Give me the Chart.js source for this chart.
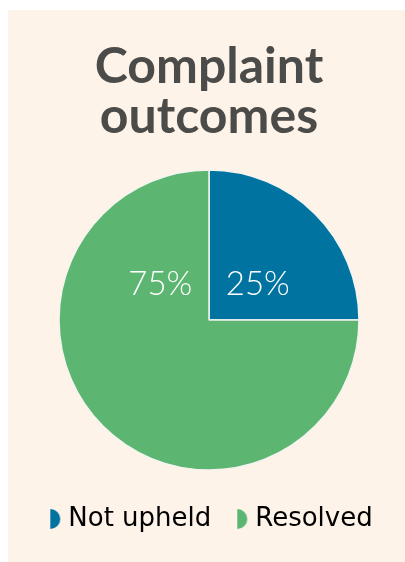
<!DOCTYPE html>
<html>
<head>
<meta charset="utf-8">
<script src="https://cdn.jsdelivr.net/npm/chart.js@4"></script>
<style>
  body { margin: 0; background: #ffffff; }
  #painel {
    position: absolute;
    left: 8px;
    top: 10px;
    width: 397px;
    height: 552px;
    background: #fef3e8;
  }
</style>
</head>
<body>
<div id="painel"><canvas id="pizza" width="397" height="552"></canvas></div>
<script>
const categorias = ["Not upheld", "Resolved"];
const porcentagens = [25, 75];
const cores = ["#0073a0", "#5db572"];

// marcador da legenda: meio circulo com o lado reto a esquerda
function meioCirculo(cor) {
  const c = document.createElement("canvas");
  c.width = 22;
  c.height = 22;
  const g = c.getContext("2d");
  g.fillStyle = cor;
  g.beginPath();
  g.arc(11, 11, 10, -Math.PI / 2, Math.PI / 2);
  g.closePath();
  g.fill();
  return c;
}

const rotulosPizza = {
  id: "rotulosPizza",
  afterDatasetsDraw(chart) {
    const ctx = chart.ctx;
    const arcos = chart.getDatasetMeta(0).data;
    ctx.save();
    ctx.fillStyle = "#ffffff";
    ctx.font = "300 33px Lato";
    ctx.textAlign = "center";
    ctx.textBaseline = "middle";
    arcos.forEach((arco, i) => {
      const meio = (arco.startAngle + arco.endAngle) / 2;
      const lado = Math.cos(meio) >= 0 ? 1 : -1;
      const x = arco.x + lado * arco.outerRadius * 0.325;
      const y = arco.y - arco.outerRadius * 0.235;
      ctx.fillText(`${porcentagens[i]}%`, x, y);
    });
    ctx.restore();
  },
};

new Chart(document.getElementById("pizza"), {
  type: "pie",
  data: {
    labels: categorias,
    datasets: [
      {
        data: porcentagens,
        backgroundColor: cores,
        borderColor: "#f3f4ef",
        borderWidth: 1.5,
        radius: 150,
      },
    ],
  },
  options: {
    responsive: false,
    animation: false,
    layout: {
      padding: { left: 5, right: 0, top: 0, bottom: 20 },
    },
    plugins: {
      title: {
        display: true,
        text: ["Complaint", "outcomes"],
        color: "#4b4b49",
        font: { family: "Lato", size: 50, weight: "bold", lineHeight: 1.0 },
        padding: { top: 32, bottom: 13 },
      },
      legend: {
        position: "bottom",
        labels: {
          usePointStyle: true,
          pointStyleWidth: 10,
          padding: 21,
          color: "#151515",
          font: { family: "DejaVu Sans", size: 26 },
          generateLabels(chart) {
            return categorias.map((nome, i) => ({
              text: nome,
              fillStyle: cores[i],
              strokeStyle: cores[i],
              lineWidth: 0,
              pointStyle: meioCirculo(cores[i]),
              index: i,
              hidden: false,
            }));
          },
        },
      },
      tooltip: { enabled: false },
    },
  },
  plugins: [rotulosPizza],
});
</script>
</body>
</html>
